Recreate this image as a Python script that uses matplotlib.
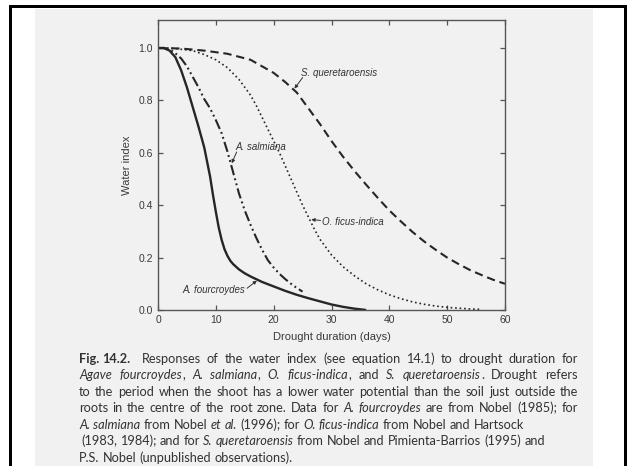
import matplotlib
matplotlib.use("Agg")
import matplotlib.pyplot as plt
from matplotlib.patches import Rectangle

# ---------------- data ----------------
days_fourcroydes = [0, 1, 2, 3, 4, 5, 6, 7, 8, 9, 9.5, 10, 10.5, 11, 11.5, 12, 12.5,
                    13, 14, 15, 16, 18, 20, 22, 24, 26, 28, 30, 32, 34, 36]
wi_fourcroydes = [1.0, 1.0, 0.99, 0.965, 0.915, 0.85, 0.775, 0.70, 0.62, 0.51, 0.44,
                  0.375, 0.315, 0.268, 0.232, 0.207, 0.188, 0.175, 0.155, 0.14, 0.128,
                  0.107, 0.09, 0.073, 0.058, 0.045, 0.033, 0.021, 0.012, 0.005, 0.0]

days_salmiana = [0, 1, 2, 3, 4, 5, 6, 7, 8, 9, 10, 11, 12, 13, 14, 15, 16, 17, 18,
                 19, 20, 21, 22, 23, 24, 25]
wi_salmiana = [1.0, 1.0, 0.995, 0.98, 0.96, 0.93, 0.89, 0.85, 0.805, 0.77, 0.725,
               0.675, 0.605, 0.525, 0.445, 0.38, 0.325, 0.275, 0.23, 0.19, 0.162,
               0.138, 0.118, 0.10, 0.084, 0.07]

days_ficus = [0, 2, 4, 6, 8, 10, 12, 14, 16, 17, 18, 19, 20, 21, 22, 23, 24, 25, 26,
              27, 28, 29, 30, 32, 34, 36, 38, 40, 42, 44, 46, 48, 50, 52, 54, 56]
wi_ficus = [1.0, 1.0, 0.995, 0.99, 0.975, 0.955, 0.925, 0.88, 0.82, 0.78, 0.735,
            0.69, 0.645, 0.60, 0.55, 0.50, 0.45, 0.40, 0.355, 0.31, 0.27, 0.24,
            0.21, 0.165, 0.13, 0.10, 0.077, 0.058, 0.043, 0.031, 0.022, 0.015,
            0.01, 0.007, 0.004, 0.002]

days_quer = [0, 4, 8, 12, 16, 20, 22, 24, 26, 28, 30, 32, 34, 36, 38, 40, 42, 44,
             46, 48, 50, 52, 54, 56, 58, 60]
wi_quer = [1.0, 0.998, 0.99, 0.978, 0.955, 0.905, 0.87, 0.83, 0.77, 0.71, 0.645,
           0.585, 0.53, 0.478, 0.428, 0.38, 0.338, 0.298, 0.262, 0.23, 0.20,
           0.175, 0.152, 0.133, 0.115, 0.10]

x_ticks = [0, 10, 20, 30, 40, 50, 60]
y_ticks = [0.0, 0.2, 0.4, 0.6, 0.8, 1.0]
y_tick_labels = ["0.0", "0.2", "0.4", "0.6", "0.8", "1.0"]

# ---------------- figure ----------------
W, H = 628, 466
fig = plt.figure(figsize=(W / 100, H / 100), dpi=100)
fig.patch.set_facecolor("white")


def fx(x):
    return x / W


def fy(y):
    return 1 - y / H


# scanned page background and black frame
fig.patches.append(Rectangle((fx(35), 0), fx(593) - fx(35), fy(9), transform=fig.transFigure,
                             facecolor="#f1f1f1", edgecolor="none", zorder=-2))
for (x0, y0, x1, y1) in [(9, 5, 12, 466), (9, 5, 627, 8), (624, 5, 627, 466)]:
    fig.patches.append(Rectangle((fx(x0), fy(y1)), fx(x1) - fx(x0), fy(y0) - fy(y1),
                                 transform=fig.transFigure, facecolor="black",
                                 edgecolor="none", zorder=-1))

ax = fig.add_axes([fx(158), fy(310), fx(505) - fx(158), fy(20) - fy(310)])
ax.set_zorder(2)
ax.set_facecolor("none")
ax.set_xlim(0, 60)
ax.set_ylim(0, 290 / 262.0)

lc = "#262626"
ax.plot(days_fourcroydes, wi_fourcroydes, color=lc, lw=1.7, solid_capstyle="butt")
ax.plot(days_salmiana, wi_salmiana, color=lc, lw=1.5,
        linestyle=(0, (5, 1.6, 0.9, 1.6, 0.9, 1.6)))
ax.plot(days_ficus, wi_ficus, color=lc, lw=1.2, linestyle=(0, (1, 1.7)))
ax.plot(days_quer, wi_quer, color=lc, lw=1.5, linestyle=(0, (4, 2.3)))

ax.set_xticks(x_ticks)
ax.set_yticks(y_ticks)
ax.set_yticklabels(y_tick_labels)
axis_col = "#555555"
for s in ax.spines.values():
    s.set_color(axis_col)
    s.set_linewidth(1.0)
ax.tick_params(direction="in", top=True, right=True, length=3.5, width=0.9,
               colors=axis_col, labelcolor="#3a3a3a", labelsize=7.5, pad=3.5)
for lab in ax.get_xticklabels() + ax.get_yticklabels():
    lab.set_fontfamily("Liberation Sans")

ax.set_xlabel("Drought duration (days)", fontsize=8, color="#3a3a3a",
              family="Liberation Sans", labelpad=5.5)
ax.set_ylabel("Water index", fontsize=8, color="#3a3a3a",
              family="Liberation Sans", labelpad=5)

ann_kw = dict(fontsize=7, style="italic", color="#333333", family="Liberation Sans",
              va="center")
arrow = dict(arrowstyle="-|>", lw=0.7, color="#333333", mutation_scale=5,
             shrinkA=0, shrinkB=0)
ax.text(24.7, 0.906, "S. queretaroensis", ha="left", **ann_kw)
ax.annotate("", xy=(23.6, 0.845), xytext=(25.0, 0.887), arrowprops=arrow)
ax.text(13.4, 0.621, "A. salmiana", ha="left", **ann_kw)
ax.annotate("", xy=(12.75, 0.56), xytext=(13.6, 0.603), arrowprops=arrow)
ax.text(28.4, 0.336, "O. ficus-indica", ha="left", **ann_kw)
ax.annotate("", xy=(26.5, 0.345), xytext=(28.1, 0.342), arrowprops=arrow)
ax.text(15.0, 0.076, "A. fourcroydes", ha="right", **ann_kw)
ax.annotate("", xy=(17.1, 0.112), xytext=(15.4, 0.083), arrowprops=arrow)

# ---------------- caption ----------------
renderer = fig.canvas.get_renderer()
cap_family = "Lato"
cap_col = "#333333"
N, I, B = "normal", "italic", "bold"


def measure(text, st, size):
    t = fig.text(0, 0, text, fontsize=size, family=cap_family,
                 style="italic" if st == I else "normal",
                 weight="bold" if st == B else "normal")
    w = t.get_window_extent(renderer).width
    t.remove()
    return w


def tokenize(runs):
    words = [[]]
    for text, st in runs:
        parts = text.split(" ")
        for i, p in enumerate(parts):
            if i > 0:
                words.append([])
            if p:
                words[-1].append((p, st))
    return [w for w in words if w]


def place_line(runs, x0, base, size, justify_to=None):
    words = tokenize(runs)
    widths = [sum(measure(p, st, size) for p, st in w) for w in words]
    space = measure("x x", N, size) - measure("xx", N, size)
    if justify_to is not None and len(words) > 1:
        gap = (justify_to - x0 - sum(widths)) / (len(words) - 1)
    else:
        gap = space
    x = x0
    for w, wd in zip(words, widths):
        xx = x
        for p, st in w:
            fig.text(fx(xx), fy(base), p, fontsize=size, family=cap_family,
                     style="italic" if st == I else "normal",
                     weight="bold" if st == B else "normal",
                     color=cap_col, va="baseline", ha="left")
            xx += measure(p, st, size)
        x += wd + gap


last_text = "P.S. Nobel (unpublished observations)."
cap_size = 10 * 214 / measure(last_text, N, 10)

left, right = 79, 578
bases = [363 + 16.45 * i for i in range(7)]
place_line([("Fig. 14.2.", B)], left, bases[0], cap_size)
place_line([("Responses of the water index (see equation 14.1) to drought duration for", N)],
           142, bases[0], cap_size, justify_to=right)
place_line([("Agave fourcroydes", I), (", ", N), ("A. salmiana", I), (", ", N),
            ("O. ficus-indica", I), (", and ", N), ("S. queretaroensis", I),
            (". Drought refers", N)], left, bases[1], cap_size, justify_to=right)
place_line([("to the period when the shoot has a lower water potential than the soil just outside the", N)],
           left, bases[2], cap_size, justify_to=right)
place_line([("roots in the centre of the root zone. Data for ", N), ("A. fourcroydes", I),
            (" are from Nobel (1985); for", N)], left, bases[3], cap_size, justify_to=right)
place_line([("A. salmiana", I), (" from Nobel ", N), ("et al.", I), (" (1996); for ", N),
            ("O. ficus-indica", I), (" from Nobel and Hartsock", N)], left, bases[4], cap_size)
place_line([("(1983, 1984); and for ", N), ("S. queretaroensis", I),
            (" from Nobel and Pimienta-Barrios (1995) and", N)], left + 2, bases[5], cap_size)
place_line([(last_text, N)], left, bases[6], cap_size)

fig.savefig("out.png", dpi=100, facecolor="white")
